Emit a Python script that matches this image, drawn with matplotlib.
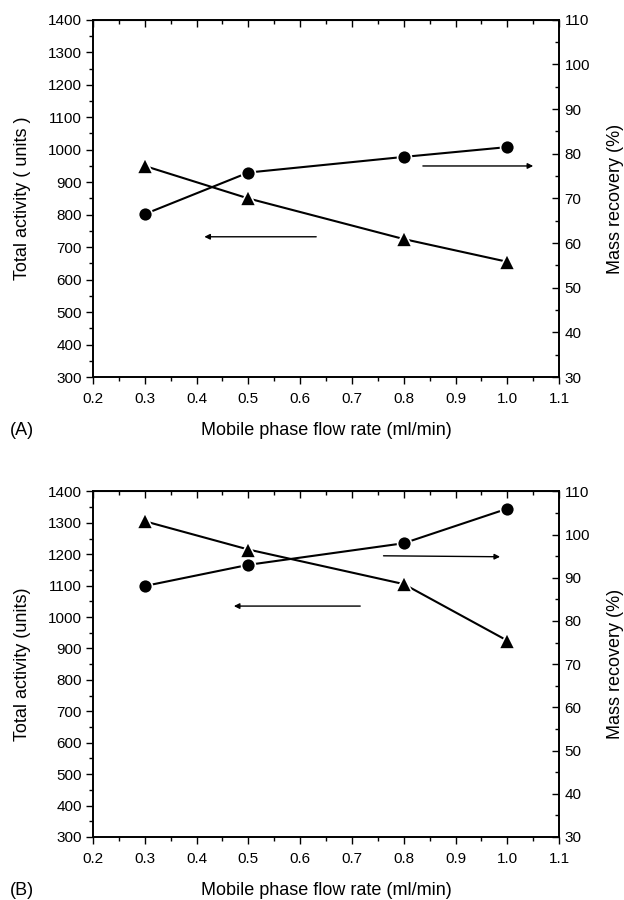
import matplotlib.pyplot as plt
from matplotlib.ticker import MultipleLocator

plt.rcParams['font.family'] = ['Liberation Sans', 'DejaVu Sans']

flow = [0.3, 0.5, 0.8, 1.0]

# panel A
activity_a = [950, 850, 725, 655]
recovery_a = [66.5, 75.8, 79.3, 81.5]
# panel B
activity_b = [1305, 1215, 1105, 925]
recovery_b = [88.1, 93.0, 98.0, 106.0]

panels = [
    dict(act=activity_a, rec=recovery_a, ylabel='Total activity ( units )', tag='(A)',
         rect=[0.149, 0.581, 0.747, 0.397], tag_y=0.522,
         left_arrow=((0.631, 732), (0.415, 732)), right_arrow=((0.837, 950), (1.05, 950))),
    dict(act=activity_b, rec=recovery_b, ylabel='Total activity (units)', tag='(B)',
         rect=[0.149, 0.070, 0.747, 0.384], tag_y=0.011,
         left_arrow=((0.716, 1035), (0.472, 1035)), right_arrow=((0.761, 1195), (0.986, 1192))),
]

fig = plt.figure(figsize=(6.24, 9), dpi=100)

for p in panels:
    ax = fig.add_axes(p['rect'])
    ax2 = ax.twinx()

    ax.plot(flow, p['act'], '-^', color='black', lw=1.5, ms=11,
            mfc='black', mec='white', mew=1.2, zorder=3)
    ax2.plot(flow, p['rec'], '-o', color='black', lw=1.5, ms=10,
             mfc='black', mec='white', mew=1.2, zorder=3)

    ax.set_xlim(0.2, 1.1)
    ax.set_ylim(300, 1400)
    ax2.set_ylim(30, 110)

    ax.xaxis.set_major_locator(MultipleLocator(0.1))
    ax.xaxis.set_minor_locator(MultipleLocator(0.05))
    ax.yaxis.set_major_locator(MultipleLocator(100))
    ax.yaxis.set_minor_locator(MultipleLocator(50))
    ax2.yaxis.set_major_locator(MultipleLocator(10))
    ax2.yaxis.set_minor_locator(MultipleLocator(5))
    ax.xaxis.set_major_formatter(plt.FuncFormatter(lambda v, _: f'{v:.1f}'))

    ax.tick_params(which='major', direction='out', length=5, width=1, labelsize=11)
    ax.tick_params(which='minor', direction='out', length=3, width=1)
    ax.tick_params(axis='x', which='major', pad=6)
    ax.tick_params(axis='y', which='major', pad=3)
    ax2.tick_params(which='major', direction='in', length=5, width=1, labelsize=11, pad=4)
    ax2.tick_params(which='minor', direction='in', length=3, width=1)

    top = ax.secondary_xaxis('top')
    top.xaxis.set_major_locator(MultipleLocator(0.1))
    top.xaxis.set_minor_locator(MultipleLocator(0.05))
    top.tick_params(which='major', direction='in', length=5, width=1, labeltop=False)
    top.tick_params(which='minor', direction='in', length=3, width=1)

    for a in (ax, ax2):
        for s in a.spines.values():
            s.set_linewidth(1.2)

    ax.set_xlabel('Mobile phase flow rate (ml/min)', fontsize=13, labelpad=11)
    ax.set_ylabel(p['ylabel'], fontsize=13, labelpad=12)
    ax2.set_ylabel('Mass recovery (%)', fontsize=13, labelpad=12)

    (x0, y0), (x1, y1) = p['left_arrow']
    ax.annotate('', xy=(x1, y1), xytext=(x0, y0),
                arrowprops=dict(arrowstyle='-|>', color='black', lw=1.0,
                                mutation_scale=8, shrinkA=0, shrinkB=0))
    (x0, y0), (x1, y1) = p['right_arrow']
    ax.annotate('', xy=(x1, y1), xytext=(x0, y0),
                arrowprops=dict(arrowstyle='-|>', color='black', lw=1.0,
                                mutation_scale=8, shrinkA=0, shrinkB=0))

    fig.text(0.016, p['tag_y'], p['tag'], fontsize=13, va='center')

fig.savefig('out.png', dpi=100)
